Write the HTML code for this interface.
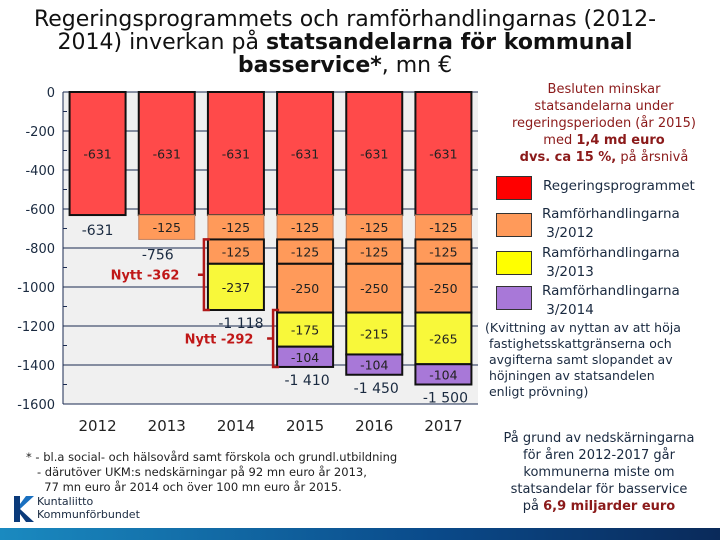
<!DOCTYPE html>
<html><head><meta charset="utf-8">
<style>
body{margin:0;width:720px;height:540px;background:#fff;overflow:hidden;position:relative;font-family:"DejaVu Sans","Liberation Sans",sans-serif;}
.t{position:absolute;white-space:nowrap;}
.sq{position:absolute;width:34px;height:22px;border:1px solid #333;}
</style></head><body>
<div class="t" style="left:0;top:8px;width:690px;text-align:center;font-size:22px;line-height:23px;color:#111;">Regeringsprogrammets och ramförhandlingarnas (2012-<br>2014) inverkan på <b>statsandelarna för kommunal</b><br><b>basservice*</b>, mn €</div>
<svg id="chart" width="720" height="540" style="position:absolute;left:0;top:0"></svg>

<div class="t" style="left:488px;top:81px;width:232px;text-align:center;font-size:13px;line-height:17px;color:#8b1a1a;">Besluten minskar<br>statsandelarna under<br>regeringsperioden (år 2015)<br>med <b>1,4 md euro</b><br><b>dvs. ca 15 %,</b> på årsnivå</div>
<div class="sq" style="left:496px;top:176px;background:#ff0000"></div>
<div class="t" style="left:543px;top:178px;font-size:13.5px;color:#1a2a40;">Regeringsprogrammet</div>
<div class="sq" style="left:496px;top:213px;background:#ff9a5a"></div>
<div class="t" style="left:542px;top:205px;font-size:13.5px;line-height:19px;color:#1a2a40;">Ramförhandlingarna<br>&nbsp;3/2012</div>
<div class="sq" style="left:496px;top:251px;background:#ffff00"></div>
<div class="t" style="left:542px;top:244px;font-size:13.5px;line-height:19px;color:#1a2a40;">Ramförhandlingarna<br>&nbsp;3/2013</div>
<div class="sq" style="left:496px;top:286px;background:#a878d8"></div>
<div class="t" style="left:542px;top:282px;font-size:13.5px;line-height:19px;color:#1a2a40;">Ramförhandlingarna<br>&nbsp;3/2014</div>
<div class="t" style="left:485px;top:320px;font-size:12.5px;line-height:16px;color:#1a2a40;">(Kvittning av nyttan av att höja<br>&nbsp;fastighetsskattgränserna och<br>&nbsp;avgifterna samt slopandet av<br>&nbsp;höjningen av statsandelen<br>&nbsp;enligt prövning)</div>
<div class="t" style="left:484px;top:430px;width:230px;text-align:center;font-size:13px;line-height:17px;color:#1a2a40;">På grund av nedskärningarna<br>för åren 2012-2017 går<br>kommunerna miste om<br>statsandelar för basservice<br>på <b style="color:#8b1a1a">6,9 miljarder euro</b></div>
<div class="t" style="left:26px;top:450px;font-size:11.5px;line-height:15px;color:#222;">* - bl.a social- och hälsovård samt förskola och grundl.utbildning<br>&nbsp;&nbsp;&nbsp;- därutöver UKM:s nedskärningar på 92 mn euro år 2013,<br>&nbsp;&nbsp;&nbsp;&nbsp;&nbsp;77 mn euro år 2014 och över 100 mn euro år 2015.</div>
<svg width="24" height="30" style="position:absolute;left:12px;top:494px"><path d="M2 2h6v26H2z" fill="#0a3a7a"/><path d="M8 15 L22 2 L14 2 L8 10z" fill="#1a70c0"/><path d="M8 15 L22 28 L14 28 L8 20z" fill="#0a3a7a"/></svg>
<div class="t" style="left:37px;top:495px;font-size:11px;line-height:13px;color:#1a2a40;">Kuntaliitto<br>Kommunförbundet</div>
<div style="position:absolute;left:0;top:528px;width:720px;height:12px;background:linear-gradient(90deg,#1a8ac0,#0a4a8a 60%,#0a2a5a);"></div>

<script>
const years=['2012','2013','2014','2015','2016','2017'];
const regering=[-631,-631,-631,-631,-631,-631];
const ram2012a=[0,-125,-125,-125,-125,-125];
const ram2012b=[0,0,-125,-125,-125,-125];
const ram2012c=[0,0,0,-250,-250,-250];
const ram2013=[0,0,-237,-175,-215,-265];
const ram2014=[0,0,0,-104,-104,-104];
const totals=['-631','-756','-1 118','-1 410','-1 450','-1 500'];
const yTicks=[0,-200,-400,-600,-800,-1000,-1200,-1400,-1600];
const yTickLabels=['0','-200','-400','-600','-800','-1000','-1200','-1400','-1600'];

const svg=document.getElementById('chart');
const NS='http://www.w3.org/2000/svg';
const X0=63,X1=478,Y0=92,Y1=404,YMIN=-1600;
const pitch=(X1-X0)/years.length, bw=56;
function y(v){return Y0+(v/YMIN)*(Y1-Y0);}
function xc(i){return X0+pitch*(i+0.5);}
function mk(tag,attrs){const e=document.createElementNS(NS,tag);for(const k in attrs)e.setAttribute(k,attrs[k]);svg.appendChild(e);return e;}
function txt(x,yy,s,size,fill,anchor,weight){const e=mk('text',{x:x,y:yy,'font-size':size,fill:fill,'text-anchor':anchor||'middle','font-family':'DejaVu Sans, Liberation Sans, sans-serif'});if(weight)e.setAttribute('font-weight',weight);e.textContent=s;return e;}

const bg=mk('rect',{x:X0,y:Y0,width:X1-X0,height:Y1-Y0,fill:'#f0f0f0'});


yTicks.forEach((v,i)=>{
  const g=mk('line',{x1:X0,x2:X1,y1:y(v),y2:y(v),stroke:'#1a2a50','stroke-width':1});
  
  
  const l=txt(55,y(v)+5,yTickLabels[i],13,'#1a2a40','end');
  
  
  if(i<yTicks.length-1){mk('line',{x1:X0,x2:X0+4,y1:y(v-100),y2:y(v-100),stroke:'#1a2a50'});}
});
mk('line',{x1:X0,x2:X0,y1:Y0,y2:Y1,stroke:'#1a2a50'});

const series=[
 {d:regering,c:'#ff4a4a',b:true,n:'regering'},
 {d:ram2012a,c:'#ff9a5a',b:false,n:'ram2012-a'},
 {d:ram2012b,c:'#ff9a5a',b:true,n:'ram2012-b'},
 {d:ram2012c,c:'#ff9a5a',b:true,n:'ram2012-c'},
 {d:ram2013,c:'#f8f83a',b:true,n:'ram2013'},
 {d:ram2014,c:'#a878d8',b:true,n:'ram2014'}];
years.forEach((yr,i)=>{
  let acc=0;
  series.forEach(s=>{
    const v=s.d[i]; if(!v) return;
    const top=y(acc), bot=y(acc+v);
    const r=mk('rect',{x:xc(i)-bw/2,y:top,width:bw,height:bot-top,fill:s.c,stroke:s.b?'#111':'#c08060','stroke-width':s.b?2:1});
    
    
    const lab=txt(xc(i),(top+bot)/2+5,String(v),12.5,'#222');
    
    
    acc+=v;
  });
  const ty = i<2 ? y(acc)+20 : y(acc)+18;
  const tx = i===0? xc(i) : (i===1? xc(i)-9 : (i===2? xc(i)+5 : xc(i)+2));
  const tl=txt(tx,ty,totals[i],14,'#1a2a40');
  
  
  const xl=txt(xc(i),431,yr,15,'#222');
  
  
});
function bracket(i,v1,v2,label,lx){
  const bx=xc(i)-bw/2-4;
  const p=mk('path',{d:`M${bx+6} ${y(v1)} H${bx} V${y(v2)} H${bx+6} M${bx} ${(y(v1)+y(v2))/2} h-6`,stroke:'#b01818','stroke-width':2.5,fill:'none'});
  
  
  const t=txt(lx,(y(v1)+y(v2))/2+5,label,13,'#c01818','middle','bold');
  
  
}
bracket(2,-756,-1118,'Nytt -362',145);
bracket(3,-1118,-1410,'Nytt -292',219);
</script>
</body></html>
